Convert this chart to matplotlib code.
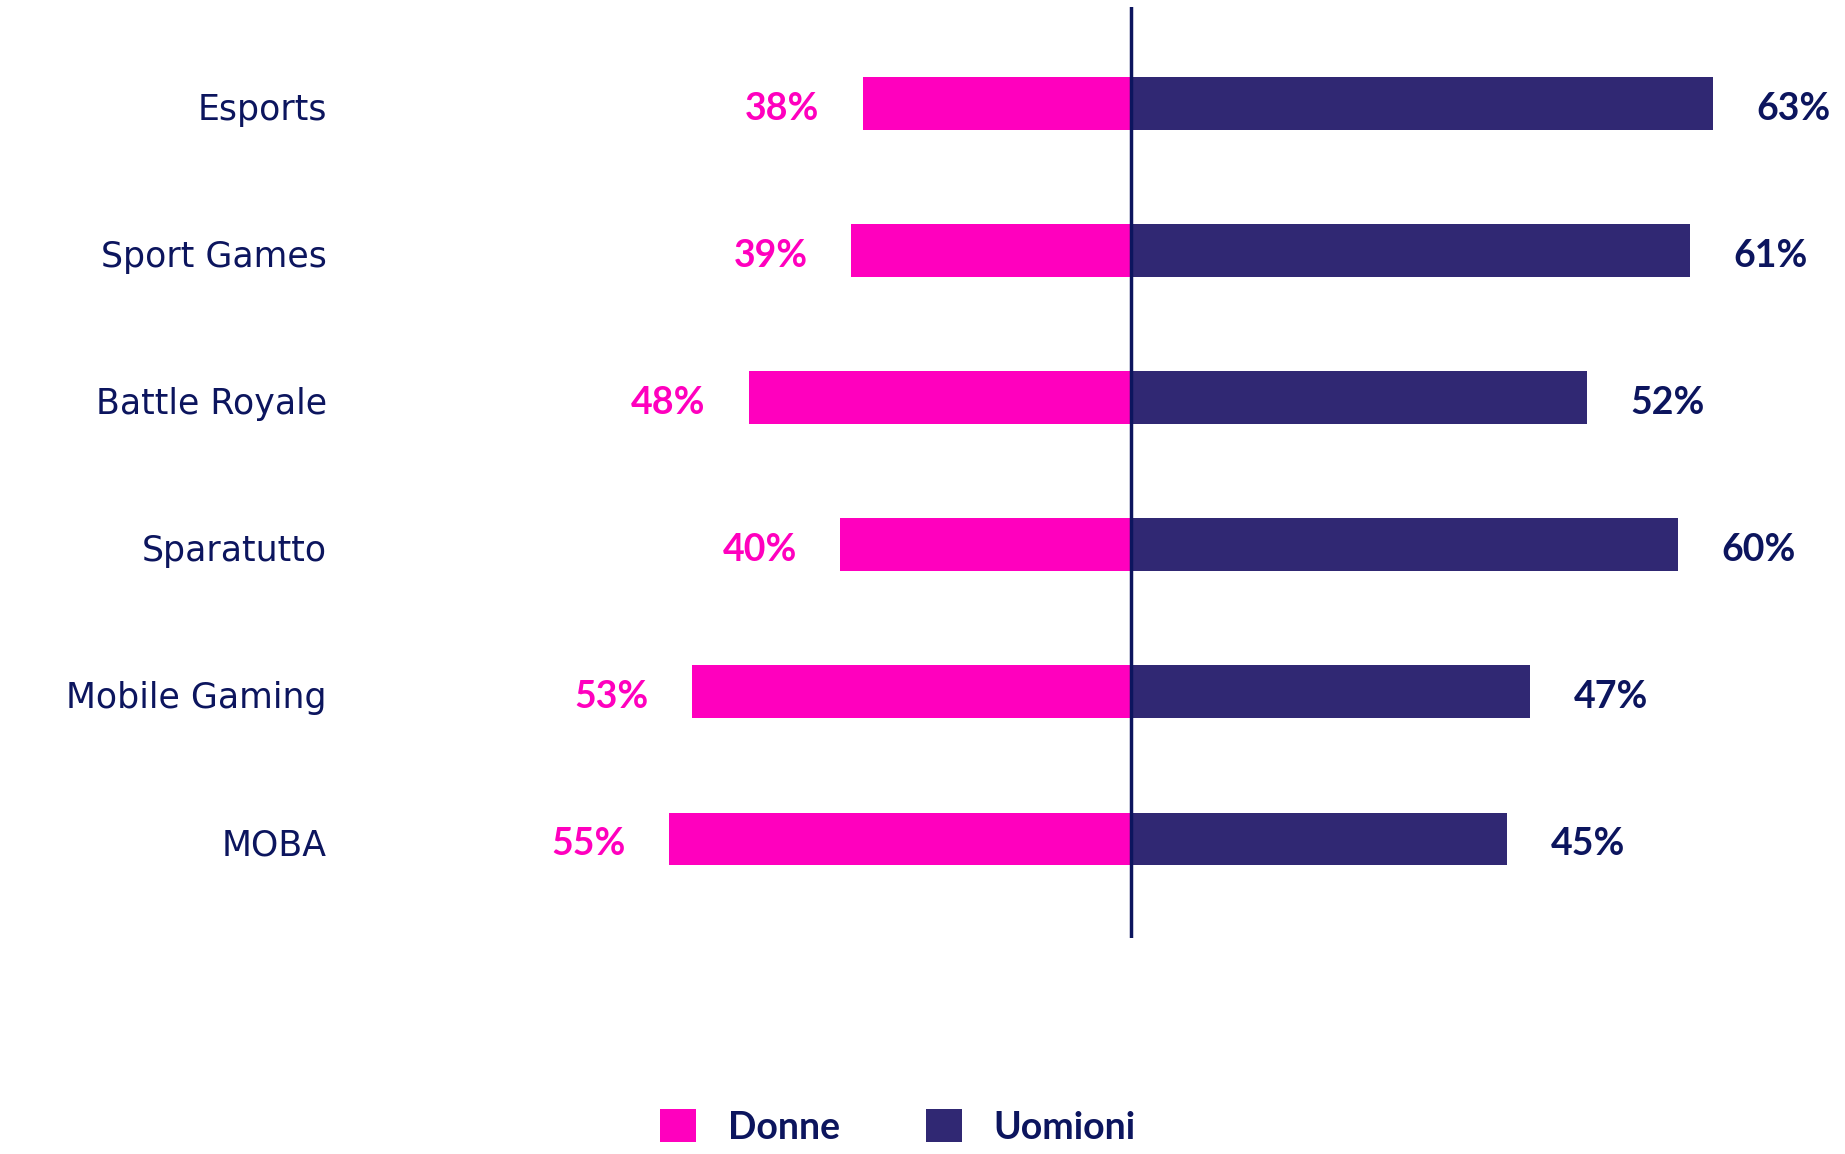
import numpy as np
import matplotlib.pyplot as plt

# data
categories = ["Esports", "Sport Games", "Battle Royale", "Sparatutto", "Mobile Gaming", "MOBA"]
donne = [38, 39, 48, 40, 53, 55]
uomini = [63, 61, 52, 60, 47, 45]
series_names = ["Donne", "Uomioni"]

# the bars in the original do not start from zero: each side has its own baseline
base_donne = 14.5
base_uomini = 12

pink = "#FF00BE"
purple = "#302873"
navy = "#0C155E"

W, H = 1845, 1154
fig = plt.figure(figsize=(W / 100, H / 100), dpi=100)
ax = fig.add_axes([345 / W, 1 - 938 / H, 1 - 345 / W, (938 - 7) / H])

y = np.arange(len(categories))
d_len = np.array(donne) - base_donne
u_len = np.array(uomini) - base_uomini

b1 = ax.barh(y, -d_len, height=0.36, color=pink, label=series_names[0])
b2 = ax.barh(y, u_len, height=0.36, color=purple, label=series_names[1])
ax.axvline(0, color=navy, lw=2.5)

ax.set_xlim(-68.9, 62.6)
ax.set_ylim(5.673, -0.656)

gap = 3.8
for i in range(len(categories)):
    ax.text(-d_len[i] - gap, y[i] + 0.035, f"{donne[i]}%", ha="right", va="center",
            fontsize=27, fontweight="bold", family="Lato", color=pink)
    ax.text(u_len[i] + gap, y[i] + 0.035, f"{uomini[i]}%", ha="left", va="center",
            fontsize=27, fontweight="bold", family="Lato", color=navy)

ax.set_yticks(y + 0.02)
ax.set_yticklabels(categories, fontsize=25, color=navy, family="DejaVu Sans")
ax.tick_params(axis="y", length=0, pad=13)
ax.set_xticks([])
for s in ax.spines.values():
    s.set_visible(False)

fig.legend(handles=[b1, b2], labels=series_names, loc="center",
           bbox_to_anchor=(898 / W, 1 - 1127 / H), ncol=2, frameon=False,
           prop={"family": "Lato", "weight": "bold", "size": 27},
           labelcolor=navy, handlelength=0.95, handleheight=0.95,
           handletextpad=0.85, columnspacing=2.3)

fig.savefig("out.png", dpi=100)
